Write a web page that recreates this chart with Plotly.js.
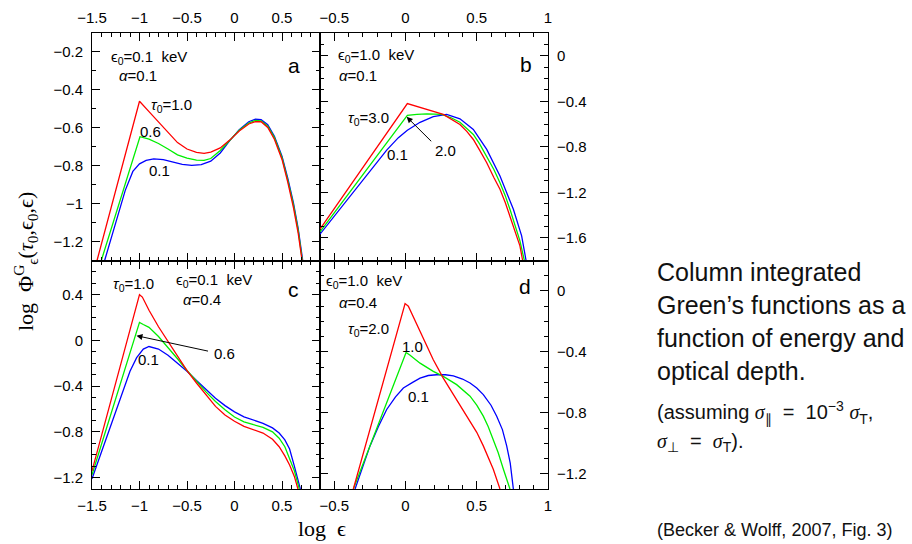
<!DOCTYPE html>
<html>
<head>
<meta charset="utf-8">
<script src="https://cdn.plot.ly/plotly-3.0.1.min.js"></script>
<style>html,body{margin:0;padding:0;background:#fff;}#chart{width:912px;height:544px;}</style>
</head>
<body>
<div id="chart"></div>
<script>
// ---------- data ----------
// Panel a: eps0 = 0.1 keV, alpha = 0.1
const aRedX = [-1.447, -1.0, -0.9, -0.8, -0.7, -0.6, -0.5, -0.4, -0.32, -0.25, -0.15, -0.05, 0.05, 0.15, 0.22, 0.28, 0.35, 0.42, 0.5, 0.56, 0.62, 0.67, 0.711];
const aRedY = [-1.3, -0.46, -0.515, -0.57, -0.625, -0.678, -0.712, -0.73, -0.735, -0.728, -0.706, -0.665, -0.617, -0.58, -0.567, -0.568, -0.598, -0.66, -0.767, -0.885, -1.02, -1.155, -1.3];
const aGrnX = [-1.402, -0.995, -0.9, -0.8, -0.7, -0.6, -0.5, -0.4, -0.32, -0.25, -0.15, -0.05, 0.05, 0.15, 0.22, 0.28, 0.35, 0.42, 0.5, 0.56, 0.62, 0.67, 0.714];
const aGrnY = [-1.3, -0.647, -0.66, -0.683, -0.712, -0.743, -0.76, -0.771, -0.772, -0.762, -0.72, -0.667, -0.613, -0.575, -0.561, -0.563, -0.592, -0.652, -0.758, -0.875, -1.005, -1.14, -1.3];
const aBluX = [-1.367, -1.25, -1.15, -1.07, -1.0, -0.93, -0.85, -0.75, -0.65, -0.55, -0.45, -0.35, -0.25, -0.15, -0.05, 0.05, 0.15, 0.22, 0.28, 0.35, 0.42, 0.5, 0.56, 0.62, 0.67, 0.718];
const aBluY = [-1.3, -1.1, -0.93, -0.83, -0.79, -0.772, -0.764, -0.768, -0.779, -0.793, -0.798, -0.794, -0.776, -0.733, -0.668, -0.61, -0.568, -0.555, -0.557, -0.584, -0.645, -0.75, -0.865, -0.995, -1.13, -1.3];

// Panel b: eps0 = 1.0 keV, alpha = 0.1
const bRedX = [-0.6, 0.013, 0.265, 0.32, 0.382, 0.43, 0.476, 0.52, 0.57, 0.62, 0.663, 0.7, 0.733, 0.77, 0.803, 0.822];
const bRedY = [-1.525, -0.42, -0.516, -0.555, -0.604, -0.665, -0.736, -0.83, -0.94, -1.07, -1.174, -1.29, -1.408, -1.54, -1.671, -1.8];
const bGrnX = [-0.6, 0.013, 0.08, 0.15, 0.254, 0.32, 0.382, 0.43, 0.476, 0.52, 0.57, 0.62, 0.663, 0.7, 0.733, 0.77, 0.803, 0.834];
const bGrnY = [-1.548, -0.525, -0.515, -0.511, -0.516, -0.545, -0.584, -0.635, -0.692, -0.775, -0.882, -1.0, -1.116, -1.23, -1.35, -1.49, -1.627, -1.8];
const bBluX = [-0.6, -0.366, -0.2, -0.132, -0.05, 0.013, 0.102, 0.195, 0.289, 0.382, 0.476, 0.57, 0.663, 0.757, 0.815, 0.846];
const bBluY = [-1.569, -1.2, -0.935, -0.83, -0.72, -0.655, -0.585, -0.535, -0.516, -0.554, -0.648, -0.823, -1.057, -1.35, -1.584, -1.8];

// Panel c: eps0 = 0.1 keV, alpha = 0.4
const cRedX = [-1.5, -1.0, -0.97, -0.9, -0.8, -0.7, -0.6, -0.5, -0.4, -0.3, -0.2, -0.1, 0.0, 0.1, 0.2, 0.3, 0.4, 0.47, 0.53, 0.58, 0.63, 0.668];
const cRedY = [-1.142, 0.401, 0.38, 0.265, 0.12, -0.012, -0.14, -0.264, -0.372, -0.474, -0.577, -0.652, -0.707, -0.752, -0.78, -0.81, -0.865, -0.93, -1.01, -1.09, -1.19, -1.3];
const cGrnX = [-1.5, -1.0, -0.96, -0.9, -0.8, -0.7, -0.6, -0.5, -0.4, -0.3, -0.2, -0.1, 0.0, 0.1, 0.2, 0.3, 0.4, 0.47, 0.53, 0.58, 0.63, 0.682];
const cGrnY = [-1.175, 0.158, 0.14, 0.115, 0.035, -0.06, -0.16, -0.263, -0.36, -0.45, -0.534, -0.607, -0.67, -0.712, -0.737, -0.76, -0.8, -0.855, -0.93, -1.03, -1.14, -1.3];
const cBluX = [-1.5, -1.4, -1.3, -1.2, -1.1, -1.03, -0.96, -0.9, -0.8, -0.7, -0.6, -0.5, -0.4, -0.3, -0.2, -0.1, 0.0, 0.1, 0.2, 0.3, 0.4, 0.47, 0.53, 0.58, 0.63, 0.693];
const cBluY = [-1.21, -0.97, -0.735, -0.5, -0.27, -0.15, -0.075, -0.053, -0.075, -0.13, -0.2, -0.27, -0.35, -0.43, -0.505, -0.57, -0.625, -0.668, -0.7, -0.725, -0.765, -0.81, -0.87, -0.95, -1.1, -1.3];

// Panel d: eps0 = 1.0 keV, alpha = 0.4
const dRedX = [-0.366, -0.003, 0.02, 0.06, 0.102, 0.15, 0.195, 0.265, 0.31, 0.359, 0.41, 0.453, 0.5, 0.546, 0.58, 0.616, 0.663];
const dRedY = [-1.3, -0.083, -0.1, -0.18, -0.267, -0.36, -0.452, -0.572, -0.64, -0.713, -0.783, -0.848, -0.928, -1.017, -1.09, -1.17, -1.3];
const dGrnX = [-0.366, 0.004, 0.03, 0.102, 0.195, 0.265, 0.359, 0.453, 0.5, 0.546, 0.58, 0.616, 0.65, 0.687, 0.733];
const dGrnY = [-1.3, -0.404, -0.42, -0.474, -0.528, -0.561, -0.615, -0.691, -0.75, -0.822, -0.89, -0.974, -1.06, -1.17, -1.3];
const dBluX = [-0.354, -0.3, -0.249, -0.19, -0.132, -0.07, -0.015, 0.05, 0.102, 0.16, 0.219, 0.28, 0.336, 0.4, 0.453, 0.5, 0.546, 0.6, 0.64, 0.68, 0.71, 0.735, 0.757];
const dBluY = [-1.3, -1.15, -1.017, -0.89, -0.778, -0.695, -0.637, -0.6, -0.572, -0.555, -0.55, -0.55, -0.557, -0.578, -0.604, -0.637, -0.68, -0.75, -0.822, -0.91, -1.017, -1.13, -1.3];

// ---------- styling ----------
const RED = '#ff0000', GRN = '#00ee00', BLU = '#0000ff';
const LW = 1.3;
function tr(x, y, c, xa, ya) {
  return {x: x, y: y, mode: 'lines', type: 'scatter', line: {color: c, width: LW},
          xaxis: xa, yaxis: ya, hoverinfo: 'skip', showlegend: false, cliponaxis: true};
}
const data = [
  tr(aBluX, aBluY, BLU, 'x', 'y'), tr(aGrnX, aGrnY, GRN, 'x', 'y'), tr(aRedX, aRedY, RED, 'x', 'y'),
  tr(bBluX, bBluY, BLU, 'x2', 'y2'), tr(bGrnX, bGrnY, GRN, 'x2', 'y2'), tr(bRedX, bRedY, RED, 'x2', 'y2'),
  tr(cBluX, cBluY, BLU, 'x3', 'y3'), tr(cGrnX, cGrnY, GRN, 'x3', 'y3'), tr(cRedX, cRedY, RED, 'x3', 'y3'),
  tr(dBluX, dBluY, BLU, 'x4', 'y4'), tr(dGrnX, dGrnY, GRN, 'x4', 'y4'), tr(dRedX, dRedY, RED, 'x4', 'y4')
];

const W = 912, H = 544;
const xL = [92 / W, 320 / W], xR = [320 / W, 548 / W];
const yT = [1 - 260.5 / H, 1 - 33 / H], yB = [1 - 489 / H, 1 - 260.5 / H];
const tickFont = {family: 'Liberation Sans, Arial, sans-serif', size: 15, color: '#000'};

function ax(domain, range, dtick, minorD, side, anchor, standoff) {
  return {
    domain: domain, range: range, anchor: anchor, side: side,
    showline: true, linecolor: '#000', linewidth: 1, mirror: 'ticks',
    ticks: 'inside', ticklen: 8, tickwidth: 1, tickcolor: '#000',
    tick0: 0, dtick: dtick, showticklabels: true, tickfont: tickFont,
    ticklabelstandoff: standoff,
    minor: {dtick: minorD, tick0: 0, ticks: 'inside', ticklen: 4, tickwidth: 1, tickcolor: '#000'},
    showgrid: false, zeroline: false, fixedrange: true
  };
}

const lblFont = {family: 'Liberation Sans, Arial, sans-serif', size: 15, color: '#000'};
const bigFont = {family: 'Liberation Sans, Arial, sans-serif', size: 21, color: '#000'};
function txt(x, y, t, xr, yr, anchor, font) {
  return {x: x, y: y, xref: xr, yref: yr, text: t, showarrow: false,
          xanchor: anchor || 'left', yanchor: 'middle', font: font || lblFont};
}
function arrow(x, y, axv, ayv, xr, yr) {
  return {x: x, y: y, ax: axv, ay: ayv, xref: xr, yref: yr, axref: xr, ayref: yr,
          text: '', showarrow: true, arrowhead: 2, arrowsize: 1.2, arrowwidth: 1, arrowcolor: '#000'};
}

const txtFont = {family: 'Liberation Sans, Arial, sans-serif', size: 25, color: '#111'};
const smallFont = {family: 'Liberation Sans, Arial, sans-serif', size: 20, color: '#111'};
const citeFont = {family: 'Liberation Sans, Arial, sans-serif', size: 18, color: '#111'};
function ptxt(px, py, t, font) {
  return {x: px / W, y: 1 - py / H, xref: 'paper', yref: 'paper', text: t, showarrow: false,
          xanchor: 'left', yanchor: 'middle', font: font};
}
const SIG = '<span style="font-family:Liberation Serif,serif"><i>σ</i></span>';

const annotations = [
  // panel a
  txt(-1.316, -0.227, 'ϵ<sub>0</sub>=0.1&nbsp;&nbsp;keV', 'x', 'y'),
  txt(-1.242, -0.326, '<i>α</i>=0.1', 'x', 'y'),
  txt(0.621, -0.269, 'a', 'x', 'y', 'center', bigFont),
  txt(-0.905, -0.485, '<i>τ</i><sub>0</sub>=1.0', 'x', 'y'),
  txt(-1.011, -0.618, '0.6', 'x', 'y'),
  txt(-0.926, -0.823, '0.1', 'x', 'y'),
  // panel b
  txt(-0.485, 0.001, 'ϵ<sub>0</sub>=1.0&nbsp;&nbsp;keV', 'x2', 'y2'),
  txt(-0.478, -0.177, '<i>α</i>=0.1', 'x2', 'y2'),
  txt(0.846, -0.081, 'b', 'x2', 'y2', 'center', bigFont),
  txt(-0.415, -0.554, '<i>τ</i><sub>0</sub>=3.0', 'x2', 'y2'),
  txt(-0.147, -0.868, '0.1', 'x2', 'y2'),
  txt(0.283, -0.835, '2.0', 'x2', 'y2', 'center'),
  arrow(0.008, -0.537, 0.191, -0.765, 'x2', 'y2'),
  // panel c
  txt(-1.295, 0.489, '<i>τ</i><sub>0</sub>=1.0', 'x3', 'y3'),
  txt(-0.632, 0.528, 'ϵ<sub>0</sub>=0.1&nbsp;&nbsp;keV', 'x3', 'y3'),
  txt(-0.558, 0.362, '<i>α</i>=0.4', 'x3', 'y3'),
  txt(0.621, 0.446, 'c', 'x3', 'y3', 'center', bigFont),
  txt(-0.105, -0.116, '0.6', 'x3', 'y3', 'center'),
  txt(-1.032, -0.168, '0.1', 'x3', 'y3'),
  arrow(-1.032, 0.042, -0.263, -0.096, 'x3', 'y3'),
  // panel d
  txt(-0.57, 0.064, 'ϵ<sub>0</sub>=1.0&nbsp;&nbsp;keV', 'x4', 'y4'),
  txt(-0.478, -0.076, '<i>α</i>=0.4', 'x4', 'y4'),
  txt(0.839, 0.029, 'd', 'x4', 'y4', 'center', bigFont),
  txt(-0.415, -0.254, '<i>τ</i><sub>0</sub>=2.0', 'x4', 'y4'),
  txt(-0.042, -0.366, '1.0', 'x4', 'y4'),
  txt(0.001, -0.695, '0.1', 'x4', 'y4'),
  // axis titles
  {x: 25 / W, y: 1 - 262 / H, xref: 'paper', yref: 'paper', showarrow: false, textangle: -90,
   xanchor: 'center', yanchor: 'middle',
   text: 'log  Φ<sup>G</sup><sub>ϵ</sub>(<i>τ</i><sub>0</sub>,ϵ<sub>0</sub>,ϵ)',
   font: {family: 'Liberation Serif, Times New Roman, serif', size: 22, color: '#000'}},
  {x: 322 / W, y: 1 - 528 / H, xref: 'paper', yref: 'paper', showarrow: false,
   xanchor: 'center', yanchor: 'middle', text: 'log  ϵ',
   font: {family: 'Liberation Serif, Times New Roman, serif', size: 22, color: '#000'}},
  // side text
  ptxt(655, 272, 'Column integrated', txtFont),
  ptxt(655, 305, 'Green’s functions as a', txtFont),
  ptxt(655, 338, 'function of energy and', txtFont),
  ptxt(655, 371, 'optical depth.', txtFont),
  ptxt(655, 412, '(assuming ' + SIG + '<sub>∥</sub> &nbsp;=&nbsp; 10<sup>−3</sup> ' + SIG + '<sub>T</sub>,', smallFont),
  ptxt(655, 442, SIG + '<sub>⊥</sub> &nbsp;=&nbsp; ' + SIG + '<sub>T</sub>).', smallFont),
  ptxt(655, 530, '(Becker &amp; Wolff, 2007, Fig. 3)', citeFont)
];

const layout = {
  width: W, height: H, autosize: false,
  margin: {l: 0, r: 0, t: 0, b: 0, pad: 0},
  paper_bgcolor: '#fff', plot_bgcolor: '#fff',
  showlegend: false,
  xaxis:  ax(xL, [-1.5, 0.9], 0.5, 0.1, 'top', 'y', 3),
  yaxis:  ax(yT, [-1.3, -0.1], 0.2, 0.1, 'left', 'x', 5),
  xaxis2: ax(xR, [-0.6, 1.0], 0.5, 0.1, 'top', 'y2', 3),
  yaxis2: ax(yT, [-1.8, 0.2], 0.4, 0.1, 'right', 'x2', 5),
  xaxis3: ax(xL, [-1.5, 0.9], 0.5, 0.1, 'bottom', 'y3', 3),
  yaxis3: ax(yB, [-1.3, 0.7], 0.4, 0.1, 'left', 'x3', 5),
  xaxis4: ax(xR, [-0.6, 1.0], 0.5, 0.1, 'bottom', 'y4', 3),
  yaxis4: ax(yB, [-1.3, 0.2], 0.4, 0.1, 'right', 'x4', 5),
  annotations: annotations
};

Plotly.newPlot('chart', data, layout, {displayModeBar: false, staticPlot: true});
</script>
</body>
</html>
